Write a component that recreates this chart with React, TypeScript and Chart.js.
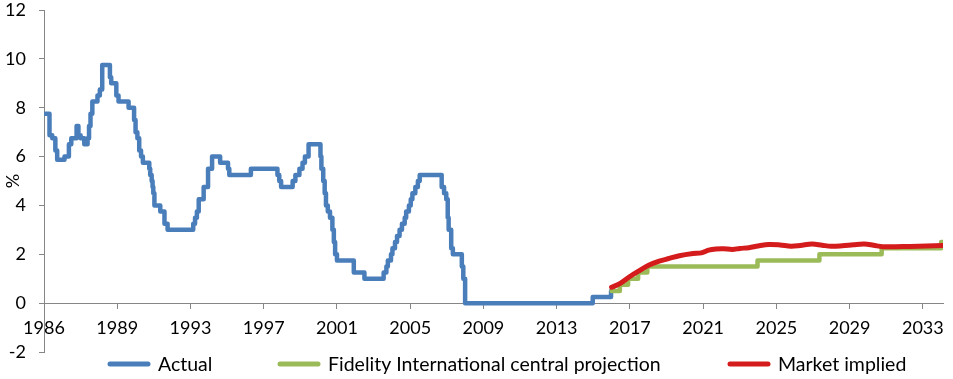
import React, { useEffect, useRef } from 'react';
import { Chart, registerables } from 'chart.js';

Chart.register(...registerables);

const FONT = 'Lato, "Open Sans", "DejaVu Sans", sans-serif';

// Actual policy rate (step changes: decimal year, rate %)
const actualDates = [
  1986.0, 1986.3, 1986.45, 1986.62, 1986.72, 1987.12, 1987.36, 1987.49, 1987.78, 1987.88,
  1988.0, 1988.2, 1988.38, 1988.46, 1988.54, 1988.64, 1988.92, 1989.05, 1989.18, 1989.6,
  1989.67, 1989.95, 1990.07, 1990.62, 1990.92, 1991.0, 1991.1, 1991.2, 1991.3, 1991.4,
  1991.75, 1991.8, 1991.88, 1991.93, 1991.97, 1992.03, 1992.35, 1992.58, 1992.75, 1994.15,
  1994.25, 1994.35, 1994.45, 1994.72, 1994.96, 1995.18, 1995.62, 1996.05, 1996.12, 1997.3,
  1998.75, 1998.85, 1998.95, 1999.58, 1999.73, 1999.95, 2000.12, 2000.25, 2000.45, 2001.1,
  2001.15, 2001.25, 2001.33, 2001.4, 2001.5, 2001.62, 2001.75, 2001.83, 2001.9, 2002.0,
  2002.92, 2003.5, 2004.55, 2004.7, 2004.78, 2004.95, 2005.03, 2005.17, 2005.28, 2005.42,
  2005.55, 2005.7, 2005.78, 2005.93, 2006.03, 2006.12, 2006.28, 2006.42, 2006.52, 2007.72,
  2007.85, 2007.97, 2008.05, 2008.1, 2008.24, 2008.33, 2008.82, 2008.9, 2009.0, 2015.97,
  2016.97, 2017.0,
];
const actualRates = [
  7.75, 6.875, 6.75, 6.25, 5.875, 6.0, 6.5, 6.75, 7.25, 6.875,
  6.75, 6.5, 6.75, 7.25, 7.75, 8.25, 8.5, 8.75, 9.75, 9.25,
  9.0, 8.5, 8.25, 8.0, 7.5, 7.0, 6.75, 6.25, 6.0, 5.75,
  5.5, 5.25, 5.0, 4.75, 4.5, 4.0, 3.75, 3.25, 3.0, 3.25,
  3.5, 3.75, 4.25, 4.75, 5.5, 6.0, 5.75, 5.5, 5.25, 5.5,
  5.25, 5.0, 4.75, 5.0, 5.25, 5.5, 5.75, 6.0, 6.5, 6.0,
  5.5, 5.0, 4.5, 4.0, 3.75, 3.5, 3.0, 2.5, 2.0, 1.75,
  1.25, 1.0, 1.25, 1.5, 1.75, 2.0, 2.25, 2.5, 2.75, 3.0,
  3.25, 3.5, 3.75, 4.0, 4.25, 4.5, 4.75, 5.0, 5.25, 4.75,
  4.5, 4.25, 3.5, 3.0, 2.25, 2.0, 1.5, 1.0, 0.0, 0.25,
  0.5, 0.5,
];

// Fidelity International central projection (step changes)
const projectionDates = [2017.0, 2017.45, 2017.9, 2018.45, 2018.95, 2024.97, 2028.35, 2031.75, 2035.0, 2035.1];
const projectionRates = [0.5, 0.75, 1.0, 1.25, 1.5, 1.75, 2.0, 2.25, 2.5, 2.5];

// Market implied path
const marketDates = [
  2017.0, 2017.45, 2017.98, 2018.5, 2019.05, 2019.6, 2020.15, 2020.7, 2021.45, 2021.9,
  2022.3, 2022.7, 2023.1, 2023.6, 2024.0, 2024.5, 2025.0, 2025.6, 2026.2, 2026.8,
  2027.3, 2027.95, 2028.5, 2029.0, 2029.6, 2030.2, 2030.8, 2031.3, 2031.8, 2032.5,
  2033.3, 2034.2, 2035.1,
];
const marketRates = [
  0.65, 0.8, 1.08, 1.32, 1.56, 1.72, 1.83, 1.94, 2.03, 2.06,
  2.17, 2.22, 2.23, 2.2, 2.24, 2.27, 2.34, 2.4, 2.38, 2.33,
  2.36, 2.42, 2.37, 2.33, 2.35, 2.39, 2.42, 2.37, 2.31, 2.31,
  2.32, 2.34, 2.36,
];

const seriesNames = ['Actual', 'Fidelity International central projection', 'Market implied'];
const tickYears = [1986, 1990, 1994, 1998, 2002, 2006, 2010, 2014, 2018, 2022, 2026, 2030, 2034];
const tickLabels = ['1986', '1989', '1993', '1997', '2001', '2005', '2009', '2013', '2017', '2021', '2025', '2029', '2033'];
const yMin = -2;
const yMax = 12;
const yStep = 2;
const xMin = 1986;
const xMax = 2035.1;

const toPoints = (xs: number[], ys: number[]) => xs.map((x, i) => ({ x, y: ys[i] }));

const legendPlugin = {
  id: 'excelLegend',
  afterDraw(chart: any, _args: any, opts: any) {
    const ctx = chart.ctx;
    ctx.save();
    ctx.font = `19.5px ${FONT}`;
    ctx.textBaseline = 'alphabetic';
    ctx.textAlign = 'left';
    chart.data.datasets.forEach((ds: any, i: number) => {
      const x = opts.x[i];
      ctx.strokeStyle = ds.borderColor;
      ctx.lineWidth = 5;
      ctx.lineCap = 'round';
      ctx.beginPath();
      ctx.moveTo(x + 2, opts.lineY);
      ctx.lineTo(x + 40, opts.lineY);
      ctx.stroke();
      ctx.fillStyle = '#000';
      ctx.fillText(ds.label, x + 50, opts.textY);
    });
    ctx.restore();
  },
};

export default function App() {
  const ref = useRef<HTMLCanvasElement | null>(null);

  useEffect(() => {
    if (!ref.current) return;
    Chart.defaults.font.family = FONT;
    const axisColor = '#868686';
    const chart = new Chart(ref.current, {
      type: 'line',
      data: {
        datasets: [
          {
            label: seriesNames[0],
            data: toPoints(actualDates, actualRates),
            borderColor: '#4a7ebb',
            borderWidth: 4.5,
            stepped: 'before',
            pointRadius: 0,
            borderJoinStyle: 'round',
            borderCapStyle: 'round',
            order: 2,
          },
          {
            label: seriesNames[1],
            data: toPoints(projectionDates, projectionRates),
            borderColor: '#9bbb59',
            borderWidth: 4.5,
            stepped: 'before',
            pointRadius: 0,
            borderJoinStyle: 'round',
            borderCapStyle: 'round',
            order: 1,
          },
          {
            label: seriesNames[2],
            data: toPoints(marketDates, marketRates),
            borderColor: '#d41c1c',
            borderWidth: 5,
            tension: 0.35,
            pointRadius: 0,
            borderJoinStyle: 'round',
            borderCapStyle: 'round',
            order: 0,
          },
        ],
      } as any,
      options: {
        animation: false,
        responsive: false,
        maintainAspectRatio: false,
        layout: { padding: { top: 0, right: 10, bottom: 27, left: 0 } },
        plugins: {
          legend: { display: false },
          tooltip: { enabled: false },
          excelLegend: { x: [108, 278, 728], lineY: 364, textY: 371 },
        } as any,
        scales: {
          x: {
            type: 'linear',
            min: xMin,
            max: xMax,
            position: { y: 0 } as any,
            afterBuildTicks: (s: any) => {
              s.ticks = tickYears.map((v) => ({ value: v }));
            },
            afterFit: (s: any) => {
              s.height = 0;
            },
            grid: { drawOnChartArea: false, drawTicks: true, tickLength: 5, color: axisColor },
            border: { display: true, color: axisColor, width: 1 },
            ticks: {
              autoSkip: false,
              maxRotation: 0,
              color: '#000',
              padding: 9,
              font: { size: 18, family: FONT },
              callback: (_v: any, i: number) => tickLabels[i],
            },
          },
          y: {
            min: yMin,
            max: yMax,
            afterFit: (s: any) => {
              s.width = 44;
              s.paddingTop = 10;
              s.paddingBottom = 10;
            },
            grid: { drawOnChartArea: false, drawTicks: true, tickLength: 5, color: axisColor },
            border: { display: true, color: axisColor, width: 1 },
            ticks: {
              stepSize: yStep,
              color: '#000',
              padding: 13,
              font: { size: 18, family: FONT },
            },
            title: {
              display: true,
              text: '%',
              color: '#000',
              font: { size: 18, family: FONT },
              padding: { top: 2, bottom: 0 },
            },
          },
        } as any,
      },
      plugins: [legendPlugin],
    });
    return () => chart.destroy();
  }, []);

  return (
    <div style={{ position: 'fixed', left: 0, top: 0, width: 953, height: 379, background: '#fff' }}>
      <canvas ref={ref} width={953} height={379} style={{ display: 'block', width: 953, height: 379 }} />
    </div>
  );
}
